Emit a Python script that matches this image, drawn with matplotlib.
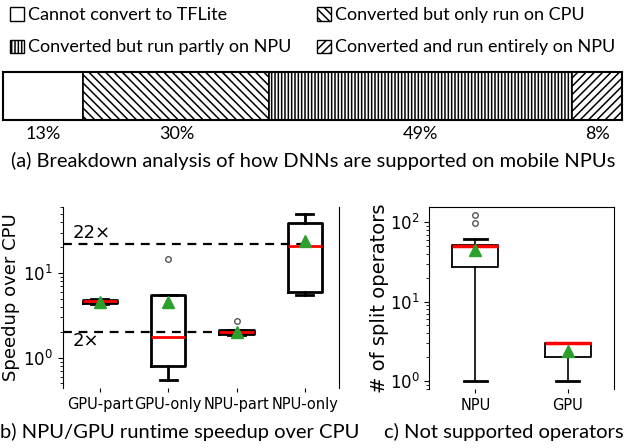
import matplotlib
matplotlib.use("Agg")
import matplotlib.pyplot as plt
from matplotlib.patches import Patch

# ---- data ----
support_labels = [
    "Cannot convert to TFLite",
    "Converted but only run on CPU",
    "Converted but run partly on NPU",
    "Converted and run entirely on NPU",
]
support_share = [13, 30, 49, 8]
support_hatch = ["", "\\\\\\\\", "|||||", "////"]

speed_names = ["GPU-part", "GPU-only", "NPU-part", "NPU-only"]
speed_q1 = [4.45, 0.79, 1.93, 5.9]
speed_med = [4.65, 1.77, 2.0, 21.0]
speed_q3 = [4.85, 5.5, 2.1, 39.0]
speed_lo = [4.35, 0.54, 1.88, 5.5]
speed_hi = [4.95, 5.5, 2.15, 49.0]
speed_mean = [4.6, 4.5, 2.0, 24.0]
speed_fliers = [[], [14.5], [2.7], []]
ref_lines = [2, 22]
ref_labels = ["2\u00d7", "22\u00d7"]

op_names = ["NPU", "GPU"]
op_q1 = [27.5, 2.0]
op_med = [50.0, 3.0]
op_q3 = [52.0, 3.0]
op_lo = [1.0, 1.0]
op_hi = [61.0, 3.0]
op_mean = [45.0, 2.4]
op_fliers = [[97, 122], []]

W, H = 626, 448
cap_font = "Lato"


def frac(x0, y0, x1, y1):
    return [x0 / W, 1 - y1 / H, (x1 - x0) / W, (y1 - y0) / H]


def stats(names, q1, med, q3, lo, hi, mean, fl):
    out = []
    for i, n in enumerate(names):
        out.append(dict(label=n, q1=q1[i], med=med[i], q3=q3[i],
                        whislo=lo[i], whishi=hi[i], mean=mean[i], fliers=fl[i]))
    return out


fig = plt.figure(figsize=(W / 100, H / 100), dpi=100)
plt.rcParams["hatch.linewidth"] = 1.1

# ---- (a) stacked bar ----
ax = fig.add_axes(frac(3, 72, 622, 120))
left = 0
for share, hatch in zip(support_share, support_hatch):
    ax.barh(0, share, left=left, height=1, color="white", edgecolor="black",
            hatch=hatch, linewidth=1.2)
    ax.text(left + share / 2, -0.8, f"{share}%", ha="center", va="center",
            fontsize=13, family=cap_font, clip_on=False)
    left += share
ax.set_xlim(0, 100)
ax.set_ylim(-0.5, 0.5)
ax.set_xticks([])
ax.set_yticks([])
for s in ax.spines.values():
    s.set_linewidth(1.5)

# legend fills column-wise, so reorder to get the reference's row layout
order = [0, 2, 1, 3]
handles = [Patch(facecolor="white", edgecolor="black", hatch=support_hatch[i]) for i in order]
fig.legend(handles, [support_labels[i] for i in order], loc="upper left",
           bbox_to_anchor=(0.005, 1.0), ncol=2, frameon=False,
           prop={"family": cap_font, "size": 13},
           handlelength=0.75, handleheight=0.75, handletextpad=0.25,
           labelspacing=0.9, columnspacing=1.4, borderaxespad=0)
fig.text(0.5, 1 - 161 / H, "(a) Breakdown analysis of how DNNs are supported on mobile NPUs",
         ha="center", va="center", fontsize=14.5, family=cap_font)

# ---- (b) speedup boxplot ----
mean_style = dict(marker="^", markerfacecolor="#2ca02c", markeredgecolor="#2ca02c", markersize=9)
flier_style = dict(marker="o", markerfacecolor="none", markeredgecolor="#555555", markersize=4)

axb = fig.add_axes(frac(63, 207, 339, 388))
axb.bxp(stats(speed_names, speed_q1, speed_med, speed_q3, speed_lo, speed_hi,
              speed_mean, speed_fliers),
        showmeans=True, widths=0.5,
        boxprops=dict(linewidth=2), whiskerprops=dict(linewidth=2),
        capprops=dict(linewidth=2), medianprops=dict(color="red", linewidth=2),
        meanprops=mean_style, flierprops=flier_style)
axb.set_yscale("log")
axb.set_ylim(0.44, 60)
axb.set_xlim(0.46, 4.5)
axb.hlines(ref_lines[0], 0.46, 3.25, colors="black", linestyles=(0, (4, 3)), linewidth=1.6)
axb.hlines(ref_lines[1], 0.46, 3.95, colors="black", linestyles=(0, (4, 3)), linewidth=1.6)
axb.text(0.6, 1.58, ref_labels[0], fontsize=13, va="center")
axb.text(0.6, 30, ref_labels[1], fontsize=13, va="center")
axb.spines["top"].set_visible(False)
axb.spines["bottom"].set_visible(False)
axb.tick_params(axis="y", labelsize=12, pad=4)
axb.tick_params(axis="x", labelsize=10.5, length=3)
axb.set_ylabel("Speedup over CPU", fontsize=13)
axb.yaxis.set_label_coords(-0.155, 0.5)
fig.text(180 / W, 1 - 432 / H, "b) NPU/GPU runtime speedup over CPU",
         ha="center", va="center", fontsize=14.5, family=cap_font)

# ---- (c) split operators boxplot ----
axc = fig.add_axes(frac(429, 207, 614, 389))
axc.bxp(stats(op_names, op_q1, op_med, op_q3, op_lo, op_hi, op_mean, op_fliers),
        showmeans=True, widths=0.5,
        boxprops=dict(linewidth=1.3), whiskerprops=dict(linewidth=1.2),
        capprops=dict(linewidth=2), medianprops=dict(color="red", linewidth=2.5),
        meanprops=mean_style, flierprops=flier_style)
axc.set_yscale("log")
axc.set_ylim(0.79, 156)
axc.set_xlim(0.5, 2.5)
axc.spines["bottom"].set_visible(False)
axc.tick_params(axis="y", labelsize=12, pad=3)
axc.tick_params(axis="x", labelsize=10.5, length=3)
axc.set_ylabel("# of split operators", fontsize=14)
axc.yaxis.set_label_coords(-0.215, 0.5)
fig.text(504 / W, 1 - 432 / H, "c) Not supported operators",
         ha="center", va="center", fontsize=14.5, family=cap_font)

fig.savefig("out.png", dpi=100)
